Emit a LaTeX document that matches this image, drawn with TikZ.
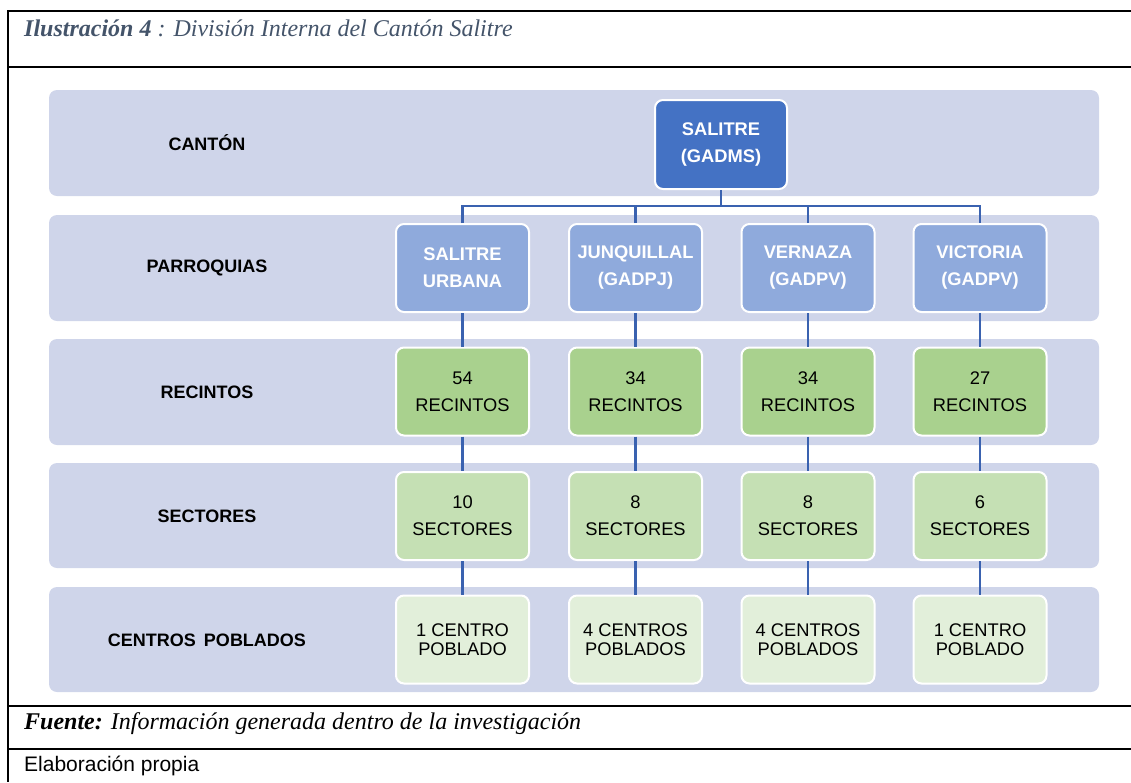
\documentclass[tikz,border=0pt]{standalone}
\usepackage{fontspec}
\setmainfont{Liberation Serif}
\newfontfamily\arial{Liberation Sans}
\definecolor{bandc}{HTML}{CFD5EA}
\definecolor{lv1}{HTML}{4472C4}
\definecolor{lv2}{HTML}{8FAADC}
\definecolor{lv3}{HTML}{A9D18E}
\definecolor{lv4}{HTML}{C5E0B4}
\definecolor{lv5}{HTML}{E2EFDA}
\definecolor{connc}{HTML}{3A62B0}
\definecolor{titlec}{HTML}{44546A}
\tikzset{
  x=1pt, y=-1pt,
  band/.style={fill=bandc, rounded corners=8pt},
  bandlabel/.style={font=\arial\bfseries\fontsize{18}{22}\selectfont, text=black},
  box/.style={draw=white, line width=2pt, rounded corners=8pt, minimum width=133pt, minimum height=88pt, align=center, inner sep=0pt},
  boxa/.style={box, fill=lv1, text=white, font=\arial\bfseries\fontsize{18.3}{27}\selectfont},
  boxb/.style={box, fill=lv2, text=white, font=\arial\bfseries\fontsize{18.3}{27}\selectfont},
  boxc/.style={box, fill=lv3, text=black, font=\arial\fontsize{18.3}{27}\selectfont},
  boxd/.style={box, fill=lv4, text=black, font=\arial\fontsize{18.3}{27}\selectfont},
  boxe/.style={box, fill=lv5, text=black, font=\arial\fontsize{18.3}{19}\selectfont},
  conn/.style={draw=connc, line width=2.6pt},
  frame/.style={draw=black, line width=2pt},
}
\begin{document}
\begin{tikzpicture}
\useasboundingbox (0,0) rectangle (1131,782);
% frame
\coordinate (ftl) at (8,11);
\coordinate (ftr) at (1131,11);
\coordinate (fbl) at (8,782);
\draw[frame] (ftr) -- (ftl) -- (fbl);
\coordinate (l1a) at (8,67);   \coordinate (l1b) at (1131,67);
\coordinate (l2a) at (8,706);  \coordinate (l2b) at (1131,706);
\coordinate (l3a) at (8,749);  \coordinate (l3b) at (1131,749);
\draw[frame] (l1a) -- (l1b);
\draw[frame] (l2a) -- (l2b);
\draw[frame] (l3a) -- (l3b);
\node[anchor=west, text=titlec, font=\fontsize{24}{28}\selectfont\itshape, inner sep=0pt] (title) at (24,28) {\textbf{Ilustración 4} : División Interna del Cantón Salitre};
\node[anchor=west, text=black, font=\fontsize{24}{28}\selectfont\itshape, inner sep=0pt] (fuente) at (24,724) {\textbf{Fuente:} Información generada dentro de la investigación};
\node[anchor=west, text=black, font=\arial\fontsize{21}{24}\selectfont, inner sep=0pt] (elab) at (24,766) {Elaboración propia};
% bands
\fill[band] (49,90) rectangle (1099,196);
\fill[band] (49,215) rectangle (1099,321);
\fill[band] (49,339) rectangle (1099,445);
\fill[band] (49,463) rectangle (1099,568);
\fill[band] (49,587) rectangle (1099,692);
\node[bandlabel] (lab1) at (207,143) {CANTÓN};
\node[bandlabel] (lab2) at (207,268) {PARROQUIAS};
\node[bandlabel] (lab3) at (207,392) {RECINTOS};
\node[bandlabel] (lab4) at (207,516) {SECTORES};
\node[bandlabel] (lab5) at (207,640) {CENTROS\hspace{3pt} POBLADOS};
% boxes
\node[boxa, minimum width=132pt, minimum height=89pt] (s) at (721,144.5) {SALITRE\\(GADMS)};
\node[boxb] (p1) at (462.5,268) {SALITRE\\URBANA};
\node[boxb] (p2) at (635.5,268) {JUNQUILLAL\\(GADPJ)};
\node[boxb] (p3) at (808,268) {VERNAZA\\(GADPV)};
\node[boxb] (p4) at (980,268) {VICTORIA\\(GADPV)};
\node[boxc] (r1) at (462.5,391.5) {54\\RECINTOS};
\node[boxc] (r2) at (635.5,391.5) {34\\RECINTOS};
\node[boxc] (r3) at (808,391.5) {34\\RECINTOS};
\node[boxc] (r4) at (980,391.5) {27\\RECINTOS};
\node[boxd] (c1) at (462.5,516) {10\\SECTORES};
\node[boxd] (c2) at (635.5,516) {8\\SECTORES};
\node[boxd] (c3) at (808,516) {8\\SECTORES};
\node[boxd] (c4) at (980,516) {6\\SECTORES};
\node[boxe] (e1) at (462.5,639.5) {1 CENTRO\\POBLADO};
\node[boxe] (e2) at (635.5,639.5) {4 CENTROS\\POBLADOS};
\node[boxe] (e3) at (808,639.5) {4 CENTROS\\POBLADOS};
\node[boxe] (e4) at (980,639.5) {1 CENTRO\\POBLADO};
% connectors
\coordinate (bar) at (721,206);
\draw[conn] (s.south) -- (s.south |- bar);
\draw[conn] (p1.north) -- (p1.north |- bar) -- (p4.north |- bar) -- (p4.north);
\draw[conn] (p2.north) -- (p2.north |- bar);
\draw[conn] (p3.north) -- (p3.north |- bar);
\foreach \i in {1,2,3,4}{
  \draw[conn] (p\i.south) -- (r\i.north);
  \draw[conn] (r\i.south) -- (c\i.north);
  \draw[conn] (c\i.south) -- (e\i.north);
}
\end{tikzpicture}
\end{document}
